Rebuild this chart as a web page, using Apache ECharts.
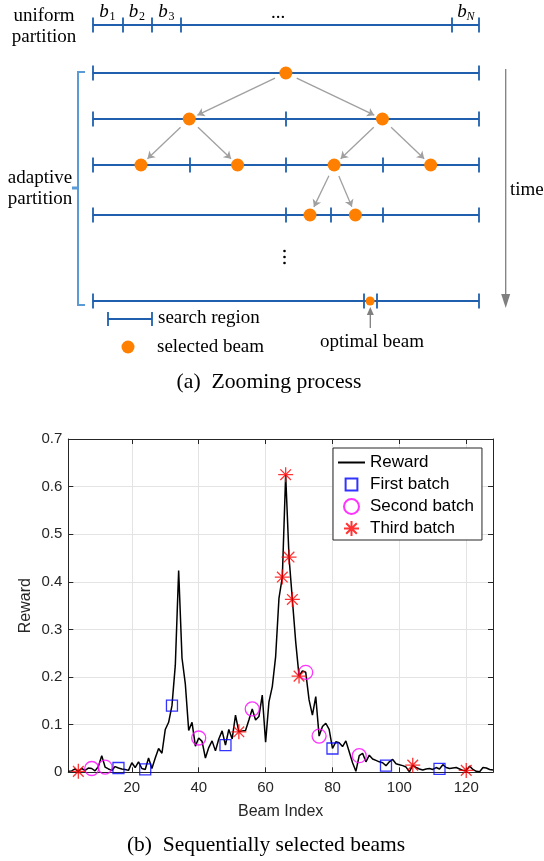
<!DOCTYPE html>
<html>
<head>
<meta charset="utf-8">
<script src="https://cdn.jsdelivr.net/npm/echarts@6/dist/echarts.min.js"></script>
<style>
  html, body { margin: 0; padding: 0; background: #fff; }
  #main { width: 544px; height: 861px; }
</style>
</head>
<body>
<div id="main"></div>
<script>
// ---------- (b) rewards per beam index ----------
const beamIndex = [];
for (let i = 1; i <= 128; i++) beamIndex.push(i);

const reward = [
  0.002, 0.003, 0.007, 0.002, 0.008, 0.004, 0.009, 0.008, 0.003, 0.012,
  0.035, 0.011, 0.007, 0.004, 0.012, 0.009, 0.007, 0.006, 0.004, 0.020,
  0.010, 0.022, 0.008, 0.006, 0.030, 0.008, 0.030, 0.050, 0.040, 0.090,
  0.105, 0.140, 0.225, 0.424, 0.240, 0.185, 0.088, 0.105, 0.055, 0.072,
  0.065, 0.030, 0.052, 0.066, 0.045, 0.070, 0.087, 0.057, 0.090, 0.070,
  0.120, 0.085, 0.087, 0.088, 0.110, 0.133, 0.110, 0.117, 0.162, 0.063,
  0.148, 0.180, 0.243, 0.366, 0.410, 0.625, 0.452, 0.363, 0.274, 0.202,
  0.213, 0.210, 0.152, 0.120, 0.159, 0.076, 0.096, 0.103, 0.090, 0.050,
  0.064, 0.062, 0.054, 0.066, 0.043, 0.020, 0.002, 0.035, 0.040, 0.022,
  0.036, 0.028, 0.025, 0.022, 0.020, 0.014, 0.022, 0.027, 0.018, 0.016,
  0.014, 0.011, 0.001, 0.015, 0.010, 0.007, 0.005, 0.007, 0.008, 0.006,
  0.010, 0.007, 0.016, 0.010, 0.008, 0.009, 0.010, 0.007, 0.004, 0.004,
  0.013, 0.006, 0.002, 0.001, 0.010, 0.009, 0.006, 0.005
];

const firstBatch  = [16, 24, 32, 48, 80, 96, 112];
const secondBatch = [8, 12, 40, 56, 72, 76, 88];
const thirdBatch  = [4, 52, 65, 66, 67, 68, 70, 104, 120];

const xTicks = [20, 40, 60, 80, 100, 120];

// ---------- (a) zooming process: boundaries as fractions of the beam range ----------
const uniformLevel = 25;
const uniformTicks = [0, 0.0765, 0.153, 0.229, 0.93, 1];
const uniformNames = ['1', '2', '3', 'N'];
const uniformNameSeg = [0, 1, 2, 4];

const rowLevels = [73, 119, 165, 215, 301];
const rowTicks = [
  [0, 1],
  [0, 0.5, 1],
  [0, 0.25, 0.5, 0.75, 1],
  [0, 0.5, 0.617, 0.75, 1],
  [0, 0.7015, 0.735, 1]
];
const rowDots = [
  [0.5],
  [0.25, 0.75],
  [0.125, 0.375, 0.625, 0.875],
  [0.5625, 0.68],
  [0.718]
];
// parent [row, dot] -> child [row, dot]
const zoomLinks = [
  [[0, 0], [1, 0]], [[0, 0], [1, 1]],
  [[1, 0], [2, 0]], [[1, 0], [2, 1]],
  [[1, 1], [2, 2]], [[1, 1], [2, 3]],
  [[2, 2], [3, 0]], [[2, 2], [3, 1]]
];

// diagram grid placement (fraction 0..1 spans the partition line)
const DL = 92.7, DW = 386.3;
const BLUE = '#1f5fad', ORANGE = '#ff8000', GRAY = '#a0a0a0';
const SERIF = '"Liberation Serif", "DejaVu Serif", serif';
const SANS = '"Liberation Sans", Arial, sans-serif';

// partition lines + ticks
const partLines = [];
function addRow(y, ticks) {
  partLines.push({ coords: [[0, y], [1, y]] });
  ticks.forEach(function (f) {
    partLines.push({ coords: [[f, y - 7.5], [f, y + 7.5]] });
  });
}
addRow(uniformLevel, uniformTicks);
rowLevels.forEach(function (y, r) { addRow(y, rowTicks[r]); });

// dots
const bigDots = [], smallDots = [];
rowDots.forEach(function (ds, r) {
  ds.forEach(function (f) {
    (r === rowDots.length - 1 ? smallDots : bigDots).push([f, rowLevels[r]]);
  });
});

// arrows between dots, trimmed so they stop short of the circles
const arrows = zoomLinks.map(function (l) {
  const a = l[0], b = l[1];
  const x1 = DL + rowDots[a[0]][a[1]] * DW, y1 = rowLevels[a[0]];
  const x2 = DL + rowDots[b[0]][b[1]] * DW, y2 = rowLevels[b[0]];
  const len = Math.hypot(x2 - x1, y2 - y1);
  const ux = (x2 - x1) / len, uy = (y2 - y1) / len;
  const sx = x1 + ux * 12, sy = y1 + uy * 12;
  const ex = x2 - ux * 9, ey = y2 - uy * 9;
  return { coords: [[(sx - DL) / DW, sy], [(ex - DL) / DW, ey]] };
});

// ---------- annotations ----------
function txt(x, y, s, opt) {
  opt = opt || {};
  return {
    type: 'text', x: x, y: y, silent: true,
    style: {
      text: s,
      font: (opt.italic ? 'italic ' : '') + (opt.size || 19) + 'px ' + (opt.family || SERIF),
      fill: opt.fill || '#000',
      align: opt.align || 'center',
      verticalAlign: 'middle'
    }
  };
}
const graphics = [
  txt(44, 16, 'uniform'), txt(44, 37, 'partition'),
  txt(278, 13, '...', { size: 19 }),
  txt(40, 178, 'adaptive'), txt(40, 199, 'partition'),
  txt(510, 190, 'time', { align: 'left' }),
  txt(158, 318, 'search region', { align: 'left' }),
  txt(157, 347, 'selected beam', { align: 'left' }),
  txt(372, 342, 'optimal beam'),
  txt(269, 382, '(a)  Zooming process', { size: 21.7 }),
  txt(266, 845, '(b)  Sequentially selected beams', { size: 21.5 }),
  // bracket
  { type: 'polyline', silent: true, shape: { points: [[85, 72], [78, 72], [78, 305], [85, 305]] },
    style: { stroke: '#5b9bd5', lineWidth: 2, fill: null } },
  { type: 'line', silent: true, shape: { x1: 72, y1: 188, x2: 78, y2: 188 },
    style: { stroke: '#5b9bd5', lineWidth: 3 } },
  // time arrow
  { type: 'line', silent: true, shape: { x1: 505.7, y1: 69, x2: 505.7, y2: 296 },
    style: { stroke: '#7f7f7f', lineWidth: 1.3 } },
  { type: 'polygon', silent: true, shape: { points: [[501.2, 294], [510.2, 294], [505.7, 308]] },
    style: { fill: '#7f7f7f' } },
  // optimal beam arrow
  { type: 'line', silent: true, shape: { x1: 370.3, y1: 328, x2: 370.3, y2: 313 },
    style: { stroke: '#7f7f7f', lineWidth: 1.3 } },
  { type: 'polygon', silent: true, shape: { points: [[366.8, 315], [373.8, 315], [370.3, 307]] },
    style: { fill: '#7f7f7f' } },
  // search region key
  { type: 'line', silent: true, shape: { x1: 108, y1: 319, x2: 152, y2: 319 },
    style: { stroke: BLUE, lineWidth: 1.8 } },
  { type: 'line', silent: true, shape: { x1: 108, y1: 312, x2: 108, y2: 326 },
    style: { stroke: BLUE, lineWidth: 1.8 } },
  { type: 'line', silent: true, shape: { x1: 152, y1: 312, x2: 152, y2: 326 },
    style: { stroke: BLUE, lineWidth: 1.8 } },
  { type: 'circle', silent: true, shape: { cx: 128, cy: 347, r: 6.5 }, style: { fill: ORANGE } }
];
// vertical ellipsis between rows
[251, 257, 263].forEach(function (y) {
  graphics.push({ type: 'circle', silent: true, shape: { cx: 284.5, cy: y, r: 1.3 }, style: { fill: '#000' } });
});
// b_i labels over the uniform partition
uniformNames.forEach(function (n, k) {
  const s = uniformNameSeg[k];
  const mid = DL + (uniformTicks[s] + uniformTicks[s + 1]) / 2 * DW;
  graphics.push(txt(mid - 3.5, 12, 'b', { italic: true, size: 19 }));
  graphics.push(txt(mid + 5, 17, n, { italic: n === 'N', size: 12 }));
});

function pick(idx) {
  return idx.map(function (i) { return [i, reward[i - 1]]; });
}

const SQUARE = 'path://M0,0M1.5,1.5L12.5,1.5L12.5,12.5L1.5,12.5Z M14,14';
const STAR = 'path://M10,0L10,20M0,10L20,10M2.9,2.9L17.1,17.1M2.9,17.1L17.1,2.9';

const AX = '#262626';
const chart = echarts.init(document.getElementById('main'));
chart.setOption({
  animation: false,
  textStyle: { fontFamily: SANS },
  grid: [
    { left: 68.3, right: 51, top: 439, bottom: 88.7 },
    { left: DL, width: DW, top: 0, height: 400 }
  ],
  xAxis: [
    {
      gridIndex: 0, type: 'value', min: 1, max: 128,
      name: 'Beam Index', nameLocation: 'middle', nameGap: 31,
      nameTextStyle: { fontSize: 16, color: AX, fontFamily: SANS },
      axisLine: { onZero: false, lineStyle: { color: AX, width: 1 } },
      axisTick: { inside: true, length: 5, customValues: xTicks, lineStyle: { color: AX } },
      axisLabel: { customValues: xTicks, fontSize: 15, color: AX, margin: 8, fontFamily: SANS },
      splitLine: { show: true, lineStyle: { color: '#e3e3e3', width: 1 } }
    },
    {
      gridIndex: 0, type: 'value', min: 1, max: 128, position: 'top',
      axisLine: { onZero: false, lineStyle: { color: AX, width: 1 } },
      axisTick: { inside: true, length: 5, customValues: xTicks, lineStyle: { color: AX } },
      axisLabel: { show: false }, splitLine: { show: false }
    },
    { gridIndex: 1, type: 'value', min: 0, max: 1, show: false }
  ],
  yAxis: [
    {
      gridIndex: 0, type: 'value', min: 0, max: 0.7, interval: 0.1,
      name: 'Reward', nameLocation: 'middle', nameGap: 35, nameMoveOverlap: false,
      nameTextStyle: { fontSize: 16, color: AX, fontFamily: SANS },
      axisLine: { show: true, onZero: false, lineStyle: { color: AX, width: 1 } },
      axisTick: { show: true, inside: true, length: 5, lineStyle: { color: AX } },
      axisLabel: { fontSize: 15, color: AX, margin: 6, fontFamily: SANS },
      splitLine: { show: true, lineStyle: { color: '#e3e3e3', width: 1 } }
    },
    {
      gridIndex: 0, type: 'value', min: 0, max: 0.7, interval: 0.1, position: 'right',
      axisLine: { show: true, onZero: false, lineStyle: { color: AX, width: 1 } },
      axisTick: { show: true, inside: true, length: 5, lineStyle: { color: AX } },
      axisLabel: { show: false }, splitLine: { show: false }
    },
    { gridIndex: 1, type: 'value', min: 0, max: 400, inverse: true, show: false }
  ],
  legend: {
    data: ['Reward', 'First batch', 'Second batch', 'Third batch'],
    orient: 'vertical', left: 333, top: 448,
    itemWidth: 27, itemHeight: 15, itemGap: 5,
    symbolKeepAspect: true,
    padding: [6, 8, 3, 4],
    borderColor: AX, borderWidth: 1, borderRadius: 0,
    backgroundColor: '#fff',
    textStyle: { fontSize: 17, color: '#000', fontFamily: SANS, lineHeight: 17 }
  },
  graphic: graphics,
  series: [
    {
      name: 'Reward', type: 'line', xAxisIndex: 0, yAxisIndex: 0,
      data: beamIndex.map(function (x, k) { return [x, reward[k]]; }),
      symbol: 'none', lineStyle: { color: '#000', width: 1.5 },
      itemStyle: { color: 'rgba(0,0,0,0)', borderColor: 'rgba(0,0,0,0)', borderWidth: 0 }, z: 2
    },
    {
      name: 'First batch', type: 'scatter', xAxisIndex: 0, yAxisIndex: 0,
      data: pick(firstBatch), symbol: SQUARE, symbolSize: 14, symbolKeepAspect: true,
      itemStyle: { color: 'rgba(0,0,0,0)', borderColor: '#0000ff', borderWidth: 1.3 }, z: 3
    },
    {
      name: 'Second batch', type: 'scatter', xAxisIndex: 0, yAxisIndex: 0,
      data: pick(secondBatch), symbol: 'circle', symbolSize: 14,
      itemStyle: { color: 'rgba(0,0,0,0)', borderColor: '#ff00ff', borderWidth: 1.3 }, z: 3
    },
    {
      name: 'Third batch', type: 'scatter', xAxisIndex: 0, yAxisIndex: 0,
      data: pick(thirdBatch), symbol: STAR, symbolSize: 15, symbolKeepAspect: true,
      itemStyle: { color: 'rgba(0,0,0,0)', borderColor: '#ff0000', borderWidth: 1.3 }, z: 3
    },
    {
      name: 'partition', type: 'lines', coordinateSystem: 'cartesian2d',
      xAxisIndex: 2, yAxisIndex: 2, silent: true,
      data: partLines, lineStyle: { color: BLUE, width: 1.8, opacity: 1 }
    },
    {
      name: 'zoom', type: 'lines', coordinateSystem: 'cartesian2d',
      xAxisIndex: 2, yAxisIndex: 2, silent: true,
      data: arrows, symbol: ['none', 'arrow'], symbolSize: 7,
      lineStyle: { color: GRAY, width: 1.3, opacity: 1 }
    },
    {
      name: 'selected', type: 'scatter', xAxisIndex: 2, yAxisIndex: 2, silent: true,
      data: bigDots, symbolSize: 13, itemStyle: { color: ORANGE, opacity: 1 }, z: 4
    },
    {
      name: 'optimal', type: 'scatter', xAxisIndex: 2, yAxisIndex: 2, silent: true,
      data: smallDots, symbolSize: 9, itemStyle: { color: ORANGE, opacity: 1 }, z: 4
    }
  ]
});
</script>
</body>
</html>
